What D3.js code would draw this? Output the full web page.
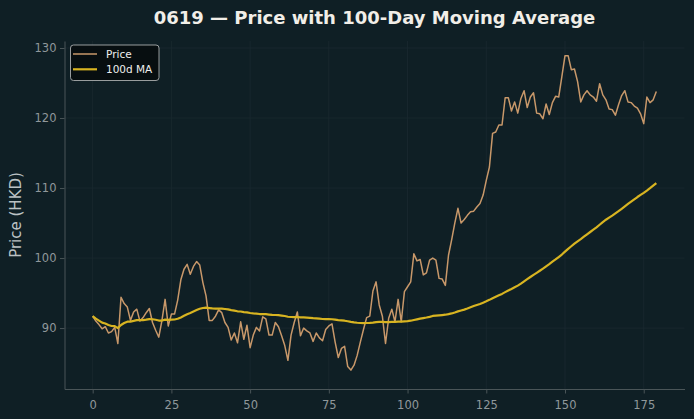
<!DOCTYPE html>
<html>
<head>
<meta charset="utf-8">
<script src="https://cdn.jsdelivr.net/npm/d3@7"></script>
<style>
    html, body { margin: 0; padding: 0; background: #0f1f25; }
    #wrapper { width: 694px; height: 419px; }
    text { font-family: "DejaVu Sans", sans-serif; }
</style>
</head>
<body>
<div id="wrapper"></div>
<script>

// closing price, one value per trading day (day 0 .. 179)
const prices = [
    91.7, 91.0, 90.5, 89.9, 90.2, 89.3, 89.5, 90.1, 87.8, 94.4,
    93.5, 93.0, 91.1, 92.3, 92.7, 91.0, 91.5, 92.2, 92.8, 90.8,
    89.7, 88.7, 91.1, 94.1, 90.3, 92.0, 92.0, 94.0, 96.9, 98.4,
    99.1, 97.7, 98.8, 99.5, 99.0, 96.5, 94.6, 91.1, 91.1, 91.7,
    92.6, 92.2, 90.8, 90.1, 88.3, 89.3, 87.9, 90.9, 88.4, 90.4,
    87.2, 89.0, 90.1, 89.6, 91.6, 91.3, 89.0, 89.0, 90.8, 90.2,
    88.9, 87.5, 85.4, 89.0, 90.8, 92.3, 88.9, 90.0, 89.6, 89.3,
    88.1, 89.3, 88.6, 88.2, 89.8, 90.3, 90.6, 88.0, 85.8, 87.1,
    87.4, 84.5, 84.0, 84.7, 86.1, 88.0, 89.8, 91.5, 91.7, 95.3,
    96.6, 93.3, 91.7, 87.8, 91.4, 92.7, 90.9, 94.1, 90.9, 95.2,
    95.9, 96.6, 100.6, 99.6, 99.8, 97.6, 97.9, 99.7, 100.0, 99.7,
    97.1, 97.0, 96.1, 100.4, 102.6, 105.0, 107.1, 105.0, 105.5, 106.1,
    106.6, 106.7, 107.3, 107.8, 109.0, 111.1, 113.0, 117.8, 118.0, 119.0,
    119.0, 122.9, 122.9, 121.0, 122.3, 120.7, 122.8, 123.9, 121.5, 123.0,
    123.6, 120.7, 120.6, 119.9, 122.0, 120.5, 122.2, 123.1, 123.0, 125.9,
    128.9, 128.9, 126.9, 127.0, 125.2, 122.3, 123.3, 123.9, 123.3, 123.0,
    122.4, 124.9, 123.3, 122.6, 121.3, 121.2, 120.4, 121.9, 123.2, 123.9,
    122.3, 122.2, 121.7, 121.4, 120.6, 119.2, 123.0, 122.2, 122.6, 123.8,
]

const maWindow = 100
const xTicks = [0, 25, 50, 75, 100, 125, 150, 175]
const yTicks = [90, 100, 110, 120, 130]
const seriesNames = ["Price", "100d MA"]

const titleText = "0619 \u2014 Price with 100-Day Moving Average"
const yAxisLabelText = "Price (HKD)"

async function drawChart() {

    /* 1. Access data */
    // rolling mean over the last 100 days (shorter at the start)
    const movingAvg = prices.map((d, i) =>
        d3.mean(prices.slice(Math.max(0, i - maWindow + 1), i + 1)))

    const dataset = prices.map((d, i) => ({ day: i, price: d, ma: movingAvg[i] }))

    const xAccessor = d => d.day
    const priceAccessor = d => d.price
    const maAccessor = d => d.ma

    const colors = {
        background: "#0f1f25",
        grid: "#1b2a30",
        spine: "#4a5558",
        tickText: "#90989b",
        label: "#bcc2c4",
        title: "#f1eee8",
        price: "#c8986a",
        ma: "#d8b421",
    }

    /* 2. Create chart dimensions */
    let dimensions = {
        width: 694,
        height: 419,
        margin: {
            top: 41,
            right: 9.5,
            bottom: 30,
            left: 64.5,
        },
    }
    dimensions.boundedWidth = dimensions.width
        - dimensions.margin.left
        - dimensions.margin.right
    dimensions.boundedHeight = dimensions.height
        - dimensions.margin.top
        - dimensions.margin.bottom

    /* 3. Draw canvas */
    const wrapper = d3.select("#wrapper")
        .append("svg")
        .attr("width", dimensions.width)
        .attr("height", dimensions.height)

    wrapper.append("rect")
        .attr("width", dimensions.width)
        .attr("height", dimensions.height)
        .attr("fill", colors.background)

    const bounds = wrapper.append("g")
        .attr("transform", `translate(${dimensions.margin.left}, ${dimensions.margin.top})`)

    /* 4. Create scales */
    const xScale = d3.scaleLinear()
        .domain([-8.95, 187.95])
        .range([0, dimensions.boundedWidth])

    const yScale = d3.scaleLinear()
        .domain([81.3, 131.0])
        .range([dimensions.boundedHeight, 0])

    /* 5. Draw peripherals (grid first so the lines sit on top) */
    const grid = bounds.append("g")
    grid.selectAll(".vgrid")
        .data(xTicks)
        .enter().append("line")
        .attr("x1", d => xScale(d))
        .attr("x2", d => xScale(d))
        .attr("y1", 0)
        .attr("y2", dimensions.boundedHeight)
        .attr("stroke", colors.grid)
        .attr("stroke-width", 0.8)
    grid.selectAll(".hgrid")
        .data(yTicks)
        .enter().append("line")
        .attr("x1", 0)
        .attr("x2", dimensions.boundedWidth)
        .attr("y1", d => yScale(d))
        .attr("y2", d => yScale(d))
        .attr("stroke", colors.grid)
        .attr("stroke-width", 0.8)

    const xAxisGenerator = d3.axisBottom()
        .scale(xScale)
        .tickValues(xTicks)
        .tickSize(4.5)
        .tickPadding(7)
        .tickSizeOuter(0)

    const xAxis = bounds.append("g")
        .attr("transform", `translate(0, ${dimensions.boundedHeight})`)
        .call(xAxisGenerator)

    const yAxisGenerator = d3.axisLeft()
        .scale(yScale)
        .tickValues(yTicks)
        .tickSize(4.5)
        .tickPadding(3.5)
        .tickSizeOuter(0)

    const yAxis = bounds.append("g")
        .call(yAxisGenerator)

    ;[xAxis, yAxis].forEach(axis => {
        axis.select(".domain").attr("stroke", colors.spine).attr("stroke-width", 1)
        axis.selectAll(".tick line").attr("stroke", colors.spine)
        axis.selectAll(".tick text")
            .attr("fill", colors.tickText)
            .style("font-size", "11.5px")
            .style("font-family", "DejaVu Sans")
    })

    /* 6. Draw data */
    const priceLine = d3.line()
        .x(d => xScale(xAccessor(d)))
        .y(d => yScale(priceAccessor(d)))

    const maLine = d3.line()
        .x(d => xScale(xAccessor(d)))
        .y(d => yScale(maAccessor(d)))

    bounds.append("path")
        .attr("d", priceLine(dataset))
        .attr("fill", "none")
        .attr("stroke", colors.price)
        .attr("stroke-width", 1.5)
        .attr("stroke-linejoin", "round")

    bounds.append("path")
        .attr("d", maLine(dataset))
        .attr("fill", "none")
        .attr("stroke", colors.ma)
        .attr("stroke-width", 2.2)
        .attr("stroke-linejoin", "round")

    /* 7. Title, axis label, legend */
    wrapper.append("text")
        .attr("x", dimensions.margin.left + dimensions.boundedWidth / 2)
        .attr("y", 24)
        .attr("text-anchor", "middle")
        .attr("fill", colors.title)
        .style("font-size", "18px")
        .style("font-weight", "bold")
        .text(titleText)

    wrapper.append("text")
        .attr("transform", `translate(16, ${dimensions.margin.top + dimensions.boundedHeight / 2}) rotate(-90)`)
        .attr("text-anchor", "middle")
        .attr("dominant-baseline", "central")
        .attr("fill", colors.label)
        .style("font-size", "15px")
        .text(yAxisLabelText)

    const legend = wrapper.append("g")
        .attr("transform", "translate(70.5, 45)")

    legend.append("rect")
        .attr("width", 88.5)
        .attr("height", 35.5)
        .attr("rx", 3)
        .attr("fill", "#070c0e")
        .attr("fill-opacity", 0.9)
        .attr("stroke", "#a9adae")
        .attr("stroke-width", 0.9)

    const legendItems = legend.selectAll(".item")
        .data(seriesNames)
        .enter().append("g")
        .attr("transform", (d, i) => `translate(0, ${9 + i * 15.3})`)

    legendItems.append("line")
        .attr("x1", 2.5)
        .attr("x2", 26.5)
        .attr("stroke", (d, i) => i === 0 ? colors.price : colors.ma)
        .attr("stroke-width", (d, i) => i === 0 ? 1.5 : 2.2)

    legendItems.append("text")
        .attr("x", 35.5)
        .attr("dominant-baseline", "central")
        .attr("fill", "#eeeeee")
        .style("font-size", "10.5px")
        .text(d => d)
}
drawChart()
</script>
</body>
</html>
